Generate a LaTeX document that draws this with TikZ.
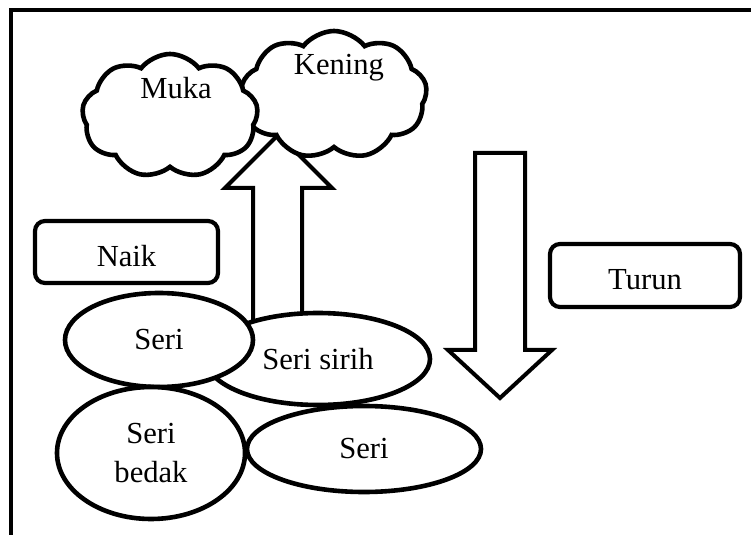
\documentclass[tikz,border=0pt]{standalone}
\usepackage{fontspec}
\setmainfont{Liberation Serif}
\usetikzlibrary{shapes.geometric,shapes.symbols}
\begin{document}
\begin{tikzpicture}[x=0.5pt,y=-0.5pt,
  every node/.style={font=\fontsize{15.3}{19.5}\selectfont},
  oval/.style={draw, ellipse, line width=2.3pt, fill=white, inner sep=0pt},
  labelbox/.style={draw, rectangle, rounded corners=5pt, line width=2.1pt, fill=white, inner sep=0pt, text height=14.3pt, text depth=0pt},
  puff/.style={draw, cloud, cloud puffs=9, cloud puff arc=105, aspect=1.5, line width=2.3pt, fill=white, inner sep=0pt},
  blockarrow/.style={draw, line width=2pt, fill=white, line join=miter},
  frameline/.style={line width=2.4pt},
  plain/.style={anchor=base, inner sep=0pt}]
\useasboundingbox (0,0) rectangle (751,535);
\draw[frameline] (11,535) -- (11,10) -- (751,10);

% block arrows
\draw[blockarrow] (475,153) -- (525,153) -- (525,350) -- (552,350) -- (500,398) -- (448,350) -- (475,350) -- cycle;
\draw[blockarrow] (253,345) -- (253,188) -- (225,188) -- (278.5,134.5) -- (332,188) -- (302,188) -- (302,345) -- cycle;

% clouds
\node[puff, minimum width=93pt, minimum height=64pt, shape border rotate=10] (keningcloud) at (334,95) {};
\node[puff, minimum width=88pt, minimum height=62pt] (mukacloud) at (170,116) {};
\node[plain] (kening) at (339,75) {Kening};
\node[plain] (muka) at (176,99) {Muka};

% boxes
\node[labelbox, minimum width=91.5pt, minimum height=31pt] (naik) at (126.5,252) {Naik};
\node[labelbox, minimum width=95pt, minimum height=31.5pt] (turun) at (645,275.5) {Turun};

% ovals
\node[oval, minimum width=112pt, minimum height=46pt] (serisirih) at (318,359) {Seri sirih};
\node[oval, minimum width=94pt, minimum height=47pt] (seria) at (159,340) {Seri};
\node[oval, minimum width=94pt, minimum height=66pt, align=center] (seribedak) at (151,453) {Seri\\bedak};
\node[oval, minimum width=117pt, minimum height=43pt] (serib) at (364,449) {Seri};
\end{tikzpicture}
\end{document}
